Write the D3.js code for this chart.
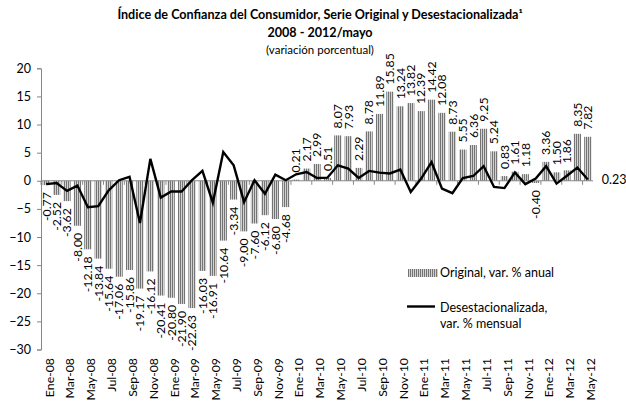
<!DOCTYPE html>
<html><head><meta charset="utf-8">
<script src="https://cdn.jsdelivr.net/npm/d3@7"></script>
<style>
body{margin:0;background:#fff;}
svg{display:block;font-family:Lato,"Open Sans",sans-serif;}
</style></head>
<body><svg id="c" width="626" height="402"></svg>
<script>
const months = ["Ene","Feb","Mar","Abr","May","Jun","Jul","Ago","Sep","Oct","Nov","Dic"];
const categories = [];
for (let y = 8; y <= 12; y++) for (let m = 0; m < 12; m++) { if (y === 12 && m > 4) break; categories.push(months[m] + "-" + String(y).padStart(2,"0")); }

const originalAnual = [-0.77,-2.52,-3.62,-8.00,-12.18,-13.84,-15.64,-17.06,-15.86,-19.17,-16.12,-20.41,
  -20.80,-21.90,-22.63,-16.03,-16.91,-10.64,-3.34,-9.00,-7.60,-6.12,-6.80,-4.68,
  0.21,2.17,2.99,0.51,8.07,7.93,2.29,8.78,11.89,15.85,13.24,13.82,
  12.39,14.42,12.08,8.73,5.55,6.36,9.25,5.24,0.83,1.61,1.18,-0.40,
  3.36,1.50,1.86,8.35,7.82];
const desestMensual = [-0.6,-0.4,-1.8,-0.85,-4.7,-4.5,-1.7,0.1,0.7,-7.5,3.9,-3.0,
  -1.9,-1.9,0.1,1.75,-3.9,5.1,2.75,-3.8,0.1,-2.3,1.1,0.1,
  1.15,1.55,0.5,0.55,2.75,2.15,0.5,1.75,1.45,1.3,2.0,-2.0,
  0.4,3.3,-1.4,-2.2,0.5,0.85,2.6,-1.1,-1.3,1.5,-0.6,0.4,
  2.6,-0.5,0.9,2.35,0.23];
const yTicks = [20,15,10,5,0,-5,-10,-15,-20,-25,-30];

const svg = d3.select("#c");
const defs = svg.append("defs");
const pat = defs.append("pattern").attr("id","stripes").attr("patternUnits","userSpaceOnUse")
  .attr("width",2).attr("height",4);
pat.append("rect").attr("width",2).attr("height",4).attr("fill","#d2d2d2");
pat.append("rect").attr("width",1).attr("height",4).attr("fill","#747474");

const x = d3.scaleBand().domain(categories).range([41, 593]).paddingInner(0.3).paddingOuter(0.15);
const y = d3.scaleLinear().domain([-30, 20]).range([349.5, 68.3]);
const cx = d => x(d) + x.bandwidth()/2;

// title
const title = svg.append("g").attr("text-anchor","middle").attr("fill","#000");
title.append("text").attr("x",320).attr("y",18.5).attr("font-weight","bold").attr("font-size",12.6)
  .text("Índice de Confianza del Consumidor, Serie Original y Desestacionalizada¹");
title.append("text").attr("x",320).attr("y",36.5).attr("font-weight","bold").attr("font-size",12.6)
  .text("2008 - 2012/mayo");
title.append("text").attr("x",320).attr("y",54).attr("font-size",11.5)
  .text("(variación porcentual)");

// bars
svg.append("g").selectAll("rect").data(categories).join("rect")
  .attr("x", d => x(d)).attr("width", x.bandwidth())
  .attr("y", (d,i) => y(Math.max(0, originalAnual[i])))
  .attr("height", (d,i) => Math.abs(y(originalAnual[i]) - y(0)))
  .attr("fill","url(#stripes)");

// y axis
const yAxis = svg.append("g").attr("transform","translate(41,0)")
  .call(d3.axisLeft(y).tickValues(yTicks).tickSize(4).tickPadding(6).tickFormat(d3.format("d")));
yAxis.select(".domain").attr("stroke","#868686");
yAxis.selectAll(".tick line").attr("stroke","#868686");
yAxis.selectAll("text").attr("font-size",12.5).attr("fill","#000").attr("font-family","Lato,sans-serif");

// zero line with ticks
const xAxis = svg.append("g").attr("transform",`translate(0,${y(0)})`);
xAxis.append("line").attr("x1",41).attr("x2",593).attr("stroke","#868686");
xAxis.selectAll("line.t").data(categories.filter((d,i)=>i%2===0)).join("line").attr("class","t")
  .attr("x1", d => x(d) - x.step()*x.paddingInner()/2).attr("x2", d => x(d) - x.step()*x.paddingInner()/2)
  .attr("y1",0).attr("y2",4).attr("stroke","#868686");

// x labels
svg.append("g").selectAll("text").data(categories.filter((d,i)=>i%2===0)).join("text")
  .attr("transform", d => `translate(${cx(d)+3},358) rotate(-90)`)
  .attr("text-anchor","end").attr("dy","0.35em").attr("font-size",12.3).text(d => d);

// value labels
svg.append("g").selectAll("text").data(categories).join("text")
  .attr("transform", (d,i) => {
    const v = originalAnual[i];
    const yy = v >= 0 ? y(v) - 7 : y(v) + 7;
    return `translate(${cx(d)},${yy}) rotate(-90)`;
  })
  .attr("text-anchor", (d,i) => originalAnual[i] >= 0 ? "start" : "end")
  .attr("dy","0.35em").attr("font-size",12.3)
  .text((d,i) => originalAnual[i].toFixed(2));

// line
const line = d3.line().x((d,i) => cx(categories[i])).y(d => y(d));
svg.append("path").datum(desestMensual).attr("d", line).attr("fill","none")
  .attr("stroke","#000").attr("stroke-width",2.4).attr("stroke-linejoin","miter");
svg.append("text").attr("x", cx(categories[52]) + 14).attr("y", y(desestMensual[52])).attr("dy","0.35em")
  .attr("font-size",12.5).text(desestMensual[52].toFixed(2));

// legend
const lg = svg.append("g");
lg.append("rect").attr("x",408).attr("y",269).attr("width",30).attr("height",8).attr("fill","url(#stripes)");
lg.append("text").attr("x",440).attr("y",277).attr("font-size",12.5).text("Original, var. % anual");
lg.append("line").attr("x1",407).attr("x2",435).attr("y1",306.5).attr("y2",306.5).attr("stroke","#000").attr("stroke-width",2.4);
lg.append("text").attr("x",440).attr("y",312).attr("font-size",12.5).text("Desestacionalizada,");
lg.append("text").attr("x",440).attr("y",328).attr("font-size",12.5).text("var. % mensual");
</script></body></html>
